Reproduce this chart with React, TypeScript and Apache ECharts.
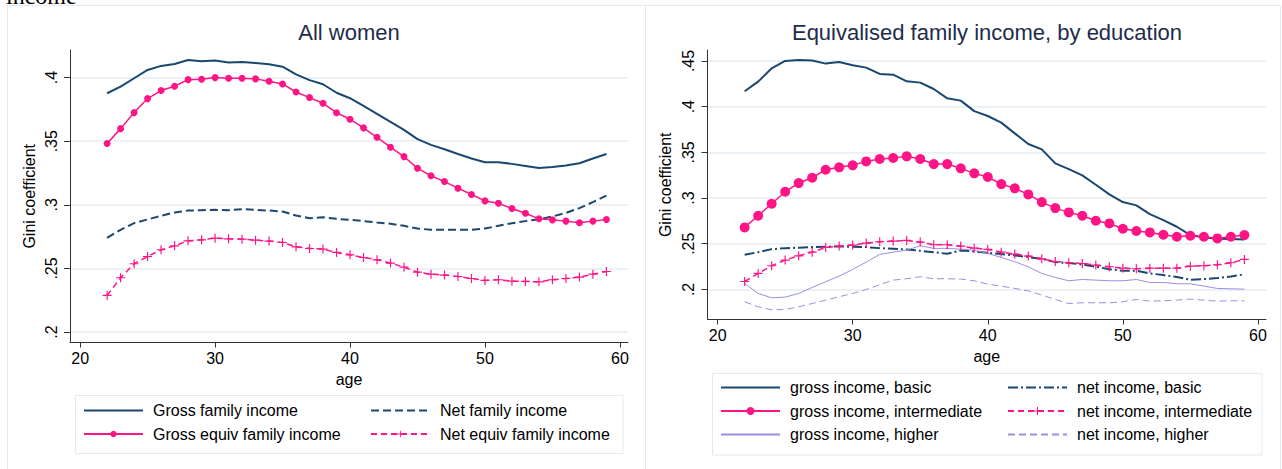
import { useEffect, useRef } from "react";
import * as echarts from "echarts";

const ages = [22, 23, 24, 25, 26, 27, 28, 29, 30, 31, 32, 33, 34, 35, 36, 37, 38, 39, 40, 41, 42, 43, 44, 45, 46, 47, 48, 49, 50, 51, 52, 53, 54, 55, 56, 57, 58, 59];

// Left panel: All women
const grossFamily = [0.3877, 0.3929, 0.3995, 0.406, 0.4092, 0.4107, 0.4139, 0.4128, 0.4134, 0.4118, 0.4123, 0.4115, 0.4105, 0.4086, 0.4026, 0.398, 0.3948, 0.3881, 0.3838, 0.3777, 0.3715, 0.3652, 0.3589, 0.3516, 0.3471, 0.3437, 0.34, 0.3364, 0.3335, 0.3335, 0.3322, 0.3306, 0.329, 0.3298, 0.3309, 0.3327, 0.3364, 0.34];
const grossEquiv = [0.3482, 0.3599, 0.3725, 0.3835, 0.3898, 0.3932, 0.3984, 0.3987, 0.4, 0.3995, 0.3995, 0.399, 0.3971, 0.395, 0.3887, 0.3843, 0.3798, 0.3724, 0.3673, 0.3605, 0.3531, 0.3453, 0.3379, 0.3288, 0.3228, 0.3183, 0.3131, 0.3081, 0.3031, 0.3013, 0.2971, 0.2934, 0.289, 0.2882, 0.2872, 0.2859, 0.2872, 0.2885];
const netFamily = [0.2741, 0.2804, 0.2856, 0.2885, 0.2914, 0.294, 0.2955, 0.2958, 0.2961, 0.2958, 0.2966, 0.2961, 0.2955, 0.2948, 0.2916, 0.2895, 0.2903, 0.289, 0.2882, 0.2872, 0.2861, 0.2851, 0.2835, 0.2814, 0.2804, 0.2804, 0.2804, 0.2804, 0.2814, 0.2835, 0.2856, 0.2872, 0.2887, 0.2908, 0.2937, 0.2974, 0.3021, 0.3073];
const netEquiv = [0.2288, 0.2427, 0.2537, 0.2594, 0.2647, 0.2678, 0.2717, 0.2725, 0.2738, 0.2733, 0.273, 0.2722, 0.2715, 0.2704, 0.267, 0.2657, 0.2652, 0.2626, 0.2607, 0.2586, 0.2568, 0.2542, 0.251, 0.2471, 0.2455, 0.2448, 0.2437, 0.2421, 0.2406, 0.2411, 0.24, 0.2398, 0.2395, 0.2411, 0.2421, 0.2432, 0.2455, 0.2476];

// Right panel: by education
const grossBasic = [0.4168, 0.4274, 0.442, 0.45, 0.4511, 0.4504, 0.4471, 0.4489, 0.4453, 0.4427, 0.4358, 0.435, 0.4277, 0.4263, 0.4193, 0.4091, 0.4066, 0.3951, 0.3898, 0.3825, 0.3708, 0.3591, 0.3533, 0.3379, 0.3317, 0.3248, 0.3146, 0.304, 0.2956, 0.292, 0.2825, 0.2759, 0.2686, 0.2595, 0.2569, 0.2555, 0.2551, 0.2547];
const grossInter = [0.2679, 0.2806, 0.2938, 0.3069, 0.3164, 0.3222, 0.331, 0.3336, 0.3358, 0.3401, 0.3427, 0.3438, 0.3456, 0.3427, 0.3372, 0.3372, 0.3325, 0.327, 0.323, 0.3153, 0.3106, 0.304, 0.2956, 0.289, 0.2843, 0.2806, 0.2752, 0.2722, 0.2664, 0.2639, 0.2624, 0.2598, 0.2576, 0.2587, 0.2576, 0.2558, 0.2576, 0.2595];
const grossHigher = [0.2065, 0.1956, 0.1908, 0.1916, 0.1956, 0.2022, 0.2084, 0.2146, 0.2219, 0.2299, 0.2383, 0.2408, 0.243, 0.2478, 0.2449, 0.2449, 0.2441, 0.243, 0.2394, 0.235, 0.2303, 0.2248, 0.2175, 0.2131, 0.2095, 0.2109, 0.2102, 0.2095, 0.2095, 0.2109, 0.2076, 0.2076, 0.2062, 0.2062, 0.2036, 0.2011, 0.2007, 0.2003];
const netBasic = [0.2379, 0.2408, 0.2441, 0.2452, 0.2456, 0.2463, 0.2467, 0.2471, 0.2467, 0.2463, 0.2452, 0.2445, 0.2438, 0.2423, 0.2408, 0.239, 0.2427, 0.2416, 0.2401, 0.2387, 0.2372, 0.2354, 0.2335, 0.2299, 0.2288, 0.2273, 0.2248, 0.2222, 0.2204, 0.2204, 0.2175, 0.2157, 0.2135, 0.2106, 0.2113, 0.2124, 0.2142, 0.2164];
const netInter = [0.2087, 0.2175, 0.2259, 0.2321, 0.2368, 0.2408, 0.246, 0.2474, 0.2485, 0.2507, 0.2522, 0.2529, 0.2536, 0.2518, 0.2489, 0.2489, 0.2474, 0.2452, 0.2438, 0.2408, 0.2387, 0.2365, 0.2335, 0.2306, 0.2292, 0.2284, 0.2266, 0.2248, 0.2233, 0.2226, 0.2233, 0.2233, 0.2233, 0.2255, 0.2259, 0.227, 0.2292, 0.2328];
const netHigher = [0.1865, 0.181, 0.1777, 0.1781, 0.181, 0.1846, 0.1883, 0.192, 0.1956, 0.2, 0.2051, 0.2102, 0.2117, 0.2139, 0.2117, 0.2117, 0.2113, 0.2095, 0.2058, 0.2036, 0.2011, 0.1985, 0.1938, 0.189, 0.1846, 0.1854, 0.1854, 0.1854, 0.1865, 0.189, 0.1872, 0.1876, 0.1883, 0.1894, 0.1883, 0.1872, 0.1876, 0.1876];

const xTicks = [20, 30, 40, 50, 60];
const yTicksLeft = [0.2, 0.25, 0.3, 0.35, 0.4];
const yTicksRight = [0.2, 0.25, 0.3, 0.35, 0.4, 0.45];

const FONT = '"Liberation Sans", Arial, Helvetica, sans-serif';
const NAVY = "#1a476f";
const PINK = "#ff1485";
const LAV = "#9a8fe3";
const AXIS = "#333333";
const GRIDC = "#e4edf0";
const PLUS = "path://M-0.13,-1H0.13V-0.13H1V0.13H0.13V1H-0.13V0.13H-1V-0.13H-0.13Z";

const fmtTick = (v: number) => String(Math.round(v * 100) / 100).replace(/^0\./, ".");

function pts(vals: number[]) {
  return ages.map((a, i) => [a, vals[i]]);
}

function line(name: string, vals: number[], idx: number, color: string, width: number, type: any, symbol: string, symbolSize: number) {
  return {
    name,
    type: "line",
    xAxisIndex: idx,
    yAxisIndex: idx,
    data: pts(vals),
    symbol,
    symbolSize,
    showSymbol: symbol !== "none",
    itemStyle: { color },
    lineStyle: { color, width, type },
    silent: true,
  };
}

function xAxis(idx: number) {
  return {
    gridIndex: idx,
    type: "value",
    min: 19.25,
    max: 60.6,
    name: "age",
    nameLocation: "middle",
    nameGap: 27,
    nameTextStyle: { fontSize: 16, color: "#000", fontFamily: FONT },
    axisLine: { show: true, onZero: false, lineStyle: { color: AXIS, width: 1 } },
    axisTick: { show: true, length: 5, customValues: xTicks, lineStyle: { color: AXIS } },
    axisLabel: { customValues: xTicks, margin: 8, fontSize: 16, color: "#000", fontFamily: FONT },
    splitLine: { show: false },
  };
}

function yAxis(idx: number, min: number, max: number, ticks: number[], gap: number) {
  return {
    gridIndex: idx,
    type: "value",
    min,
    max,
    name: "Gini coefficient",
    nameLocation: "middle",
    nameGap: gap,
    nameTextStyle: { fontSize: 16, color: "#000", fontFamily: FONT },
    axisLine: { show: true, lineStyle: { color: AXIS, width: 1 } },
    axisTick: { show: true, length: 6, customValues: ticks, lineStyle: { color: AXIS } },
    axisLabel: { customValues: ticks, rotate: 90, margin: 11, fontSize: 16, color: "#000", fontFamily: FONT, formatter: fmtTick },
    splitLine: { show: true, customValues: ticks, lineStyle: { color: GRIDC, width: 1.5 } },
  };
}

const legendCommon = {
  orient: "vertical",
  padding: 0,
  itemWidth: 59,
  itemGap: 5.5,
  selectedMode: false,
  textStyle: { fontSize: 16, color: "#000", fontFamily: FONT, lineHeight: 18, padding: [0, 0, 0, 5] },
};

const noSym = (name: string) => ({ name, itemStyle: { opacity: 0 } });

const option: any = {
  animation: false,
  backgroundColor: "#ffffff",
  grid: [
    { left: 70, top: 50, width: 558, height: 292.5 },
    { left: 707.5, top: 50, width: 558.5, height: 269.5 },
  ],
  xAxis: [xAxis(0), xAxis(1)],
  yAxis: [yAxis(0, 0.1918, 0.4217, yTicksLeft, 33), yAxis(1, 0.1671, 0.462, yTicksRight, 34)],
  legend: [
    { ...legendCommon, left: 83, top: 401.5, itemHeight: 8, data: [noSym("Gross family income"), "Gross equiv family income"] },
    { ...legendCommon, left: 370, top: 401.5, itemHeight: 8, data: [noSym("Net family income"), "Net equiv family income"] },
    { ...legendCommon, left: 720, top: 378.5, itemHeight: 10, data: [noSym("gross income, basic"), "gross income, intermediate", noSym("gross income, higher")] },
    { ...legendCommon, left: 1007, top: 378.5, itemHeight: 10, data: [noSym("net income, basic"), "net income, intermediate", noSym("net income, higher")] },
  ],
  graphic: [
    { type: "text", x: 6, y: -4, style: { text: "income", fontSize: 24, fontFamily: '"Liberation Serif", "Times New Roman", serif', fill: "#000", align: "left", verticalAlign: "middle" } },
    { type: "rect", shape: { x: 7.5, y: 5.5, width: 638, height: 480 }, style: { fill: "none", stroke: "#e3ebee", lineWidth: 1 }, z: -1 },
    { type: "rect", shape: { x: 645.5, y: 5.5, width: 635, height: 480 }, style: { fill: "none", stroke: "#e3ebee", lineWidth: 1 }, z: -1 },
    { type: "rect", shape: { x: 75.5, y: 395.5, width: 547.5, height: 58 }, style: { fill: "#fff", stroke: "#e3ebee", lineWidth: 1 } },
    { type: "rect", shape: { x: 712.5, y: 373.5, width: 549.5, height: 81.5 }, style: { fill: "#fff", stroke: "#e3ebee", lineWidth: 1 } },
    { type: "text", x: 349, y: 32, style: { text: "All women", fontSize: 22, fontFamily: FONT, fill: "#1e2c4c", align: "center", verticalAlign: "middle" } },
    { type: "text", x: 987, y: 32, style: { text: "Equivalised family income, by education", fontSize: 22, fontFamily: FONT, fill: "#1e2c4c", align: "center", verticalAlign: "middle" } },
  ],
  series: [
    line("Gross family income", grossFamily, 0, NAVY, 2, "solid", "none", 0),
    line("Net family income", netFamily, 0, NAVY, 2, [8, 4], "none", 0),
    line("Gross equiv family income", grossEquiv, 0, PINK, 1.5, "solid", "circle", 7),
    line("Net equiv family income", netEquiv, 0, PINK, 1.5, [6, 4], PLUS, 9),
    line("gross income, basic", grossBasic, 1, NAVY, 2, "solid", "none", 0),
    line("net income, basic", netBasic, 1, NAVY, 2, [10, 3, 2, 3], "none", 0),
    line("gross income, intermediate", grossInter, 1, PINK, 1.5, "solid", "circle", 10),
    line("net income, intermediate", netInter, 1, PINK, 1.5, [6, 4], PLUS, 9),
    line("gross income, higher", grossHigher, 1, LAV, 1, "solid", "none", 0),
    line("net income, higher", netHigher, 1, LAV, 1, [7, 4], "none", 0),
  ],
};

export default function App() {
  const ref = useRef<HTMLDivElement>(null);
  useEffect(() => {
    const chart = echarts.init(ref.current!, null, { renderer: "svg" });
    chart.setOption(option);
    return () => chart.dispose();
  }, []);
  return <div ref={ref} style={{ position: "absolute", left: 0, top: 0, width: 1282, height: 469, background: "#fff" }} />;
}
